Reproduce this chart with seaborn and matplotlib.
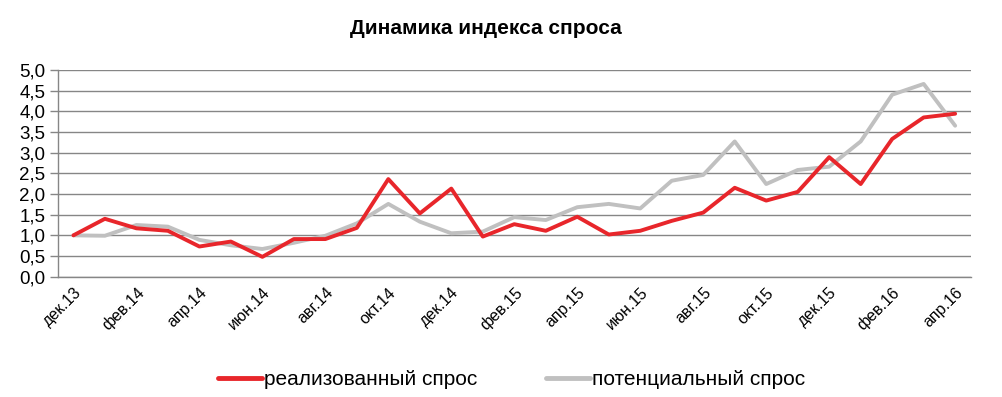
import numpy as np
import pandas as pd
import matplotlib
matplotlib.use('Agg')
import matplotlib.pyplot as plt
import seaborn as sns

# monthly index values, dec 2013 .. apr 2016
months = ['дек.13', 'янв.14', 'фев.14', 'мар.14', 'апр.14', 'май.14', 'июн.14', 'июл.14',
          'авг.14', 'сен.14', 'окт.14', 'ноя.14', 'дек.14', 'янв.15', 'фев.15', 'мар.15',
          'апр.15', 'май.15', 'июн.15', 'июл.15', 'авг.15', 'сен.15', 'окт.15', 'ноя.15',
          'дек.15', 'янв.16', 'фев.16', 'мар.16', 'апр.16']
realized = [1.00, 1.40, 1.17, 1.11, 0.73, 0.85, 0.48, 0.91, 0.91, 1.18, 2.36, 1.53, 2.13, 0.97,
            1.27, 1.11, 1.45, 1.02, 1.11, 1.35, 1.55, 2.15, 1.84, 2.05, 2.89, 2.24, 3.33, 3.85, 3.94]
potential = [1.00, 0.99, 1.25, 1.21, 0.89, 0.76, 0.67, 0.82, 0.99, 1.29, 1.76, 1.33, 1.05, 1.09,
             1.44, 1.37, 1.68, 1.76, 1.65, 2.32, 2.46, 3.27, 2.24, 2.58, 2.66, 3.27, 4.40, 4.66, 3.65]
series_names = ['реализованный спрос', 'потенциальный спрос']

df = pd.DataFrame({
    'pos': list(range(len(months))) * 2,
    'value': realized + potential,
    'series': [series_names[0]] * len(months) + [series_names[1]] * len(months),
})

sns.set_style('white')
plt.rcParams['font.family'] = ['Liberation Sans', 'DejaVu Sans']
plt.rcParams['text.color'] = 'black'
plt.rcParams['xtick.color'] = 'black'
plt.rcParams['ytick.color'] = 'black'

fig = plt.figure(figsize=(10.03, 3.97), dpi=100)
ax = fig.add_axes([0.0575, 0.303, 0.9105, 0.521])

sns.lineplot(data=df, x='pos', y='value', hue='series',
             palette={series_names[0]: '#e8262b', series_names[1]: '#c0c0c0'},
             hue_order=[series_names[1], series_names[0]],
             linewidth=2.8, ax=ax, legend=False)

grid_c = '#868686'
ax.set_xlim(-0.5, len(months) - 0.5)
ax.set_ylim(0, 5)
yt = np.arange(0, 5.01, 0.5)
ax.set_yticks(yt)
ax.set_yticklabels([f'{v:.1f}'.replace('.', ',') for v in yt], fontsize=13.5)
ax.yaxis.grid(True, color=grid_c, linewidth=1)
ax.set_axisbelow(True)

# labels every second month, tick marks between categories
label_pos = list(range(0, len(months), 2))
ax.set_xticks(label_pos)
ax.set_xticklabels([months[i] for i in label_pos], rotation=45, ha='right',
                   rotation_mode='anchor', fontsize=11.5)
ax.tick_params(axis='x', length=0, pad=6)
ax.set_xticks(np.arange(-0.5, len(months) - 1, 2), minor=True)
ax.tick_params(axis='x', which='minor', length=5, color=grid_c, width=1)
ax.tick_params(axis='y', length=6, color=grid_c, labelcolor='black', width=1, left=True, pad=3)

for s in ['top', 'right']:
    ax.spines[s].set_visible(False)
for s in ['left', 'bottom']:
    ax.spines[s].set_color(grid_c)
    ax.spines[s].set_linewidth(1)
ax.set_xlabel('')
ax.set_ylabel('')

fig.text(0.484, 0.927, 'Динамика индекса спроса', ha='center', va='center',
         fontsize=15, fontweight='bold', color='black')

handles = [plt.Line2D([], [], color='#e8262b', linewidth=3.5),
           plt.Line2D([], [], color='#c0c0c0', linewidth=3.5)]
fig.legend(handles, series_names, loc='center', bbox_to_anchor=(0.51, 0.043), ncol=2,
           frameon=False, fontsize=15, handlelength=2.1, handletextpad=0.1,
           columnspacing=3.3)

fig.savefig('out.png', dpi=100)
